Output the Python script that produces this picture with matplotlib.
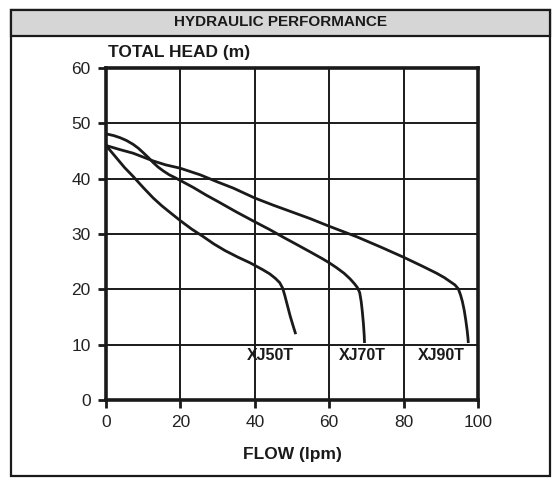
import matplotlib.pyplot as plt
from matplotlib.patches import Rectangle

# Pump curves (flow in lpm, head in m)
xj50_flow = [0, 1.5, 3, 5, 7.3, 10, 12.7, 15, 17.2, 20, 23, 26.2, 29, 32, 35.5, 38.7,
             42, 44, 45.5, 46.7, 47.5, 48.1, 48.8, 49.5, 50.3, 51]
xj50_head = [46, 44.8, 43.6, 42.0, 40.4, 38.4, 36.5, 35.1, 33.9, 32.4, 30.9, 29.5, 28.2, 27.0, 25.8, 24.8,
             23.6, 22.8, 22.0, 21.2, 20.2, 18.8, 17.0, 15.2, 13.4, 11.9]

xj70_flow = [0, 2, 3.8, 5.5, 7.3, 8.7, 10, 11.4, 12.7, 14, 15.4, 17, 18.5, 19.9, 23.5, 27, 30, 35,
             40, 44, 47.7, 51, 54.8, 58, 60, 62, 64, 65.6, 66.8, 67.6, 68.2, 68.6, 68.9, 69.2, 69.4, 69.5]
xj70_head = [48.1, 47.8, 47.4, 46.9, 46.2, 45.5, 44.7, 43.8, 42.9, 42.1, 41.4, 40.7, 40.2, 39.7, 38.4, 37.0, 35.9, 34.0,
             32.2, 30.8, 29.4, 28.2, 26.8, 25.6, 24.8, 23.9, 22.9, 21.9, 21.0, 20.3, 19.4, 17.8, 16.0, 13.8, 11.8, 10.3]

xj90_flow = [0, 3.5, 7.3, 10, 12.7, 16, 19.9, 25.3, 30, 34.2, 40, 45, 49.5, 54.8, 60, 67.4, 74, 80,
             85, 88.9, 91, 92.5, 93.8, 94.7, 95.3, 95.8, 96.3, 96.7, 97.1, 97.3, 97.4]
xj90_head = [46, 45.3, 44.6, 43.9, 43.2, 42.5, 41.9, 40.7, 39.4, 38.3, 36.5, 35.2, 34.1, 32.8, 31.4, 29.5, 27.6, 25.8,
             24.2, 22.9, 22.1, 21.4, 20.8, 20.1, 19.0, 17.8, 16.2, 14.5, 12.5, 11.2, 10.3]

models = ["XJ50T", "XJ70T", "XJ90T"]
label_x = [44.1, 68.8, 90.0]
label_y = [8.0, 8.0, 8.0]

x_ticks = [0, 20, 40, 60, 80, 100]
y_ticks = [0, 10, 20, 30, 40, 50, 60]

ink = "#1a1a1a"

fig = plt.figure(figsize=(5.57, 4.80), dpi=100)
plt.rcParams["font.family"] = ["Liberation Sans", "DejaVu Sans"]

# outer frame and grey header band
W, H = 557, 480
fig.patches.append(Rectangle((11 / W, 1 - 476 / H), 539 / W, 466 / H,
                             transform=fig.transFigure, fill=False,
                             edgecolor=ink, linewidth=1.6))
fig.patches.append(Rectangle((11 / W, 1 - 36 / H), 539 / W, 26 / H,
                             transform=fig.transFigure, facecolor="#d6d6d6",
                             edgecolor=ink, linewidth=1.6))
fig.text(281 / W, 1 - 22.5 / H, "HYDRAULIC PERFORMANCE", ha="center", va="center",
         fontsize=11, fontweight="bold", color=ink)

ax = fig.add_axes((106 / W, 1 - 400 / H, 372 / W, 332 / H))
for fl, hd in [(xj50_flow, xj50_head), (xj70_flow, xj70_head), (xj90_flow, xj90_head)]:
    ax.plot(fl, hd, color=ink, linewidth=2.0, solid_joinstyle="round", solid_capstyle="butt", zorder=3)

for name, lx, ly in zip(models, label_x, label_y):
    ax.text(lx, ly, name, ha="center", va="center", fontsize=11.5, fontweight="bold", color=ink)

ax.set_xlim(0, 100)
ax.set_ylim(0, 60)
ax.set_xticks(x_ticks)
ax.set_yticks(y_ticks)
ax.grid(True, color=ink, linewidth=1.4)
ax.set_axisbelow(True)
for s in ax.spines.values():
    s.set_linewidth(2.6)
    s.set_color(ink)
ax.tick_params(direction="out", length=6, width=2, color=ink, labelsize=12.5,
               labelcolor="#222222", pad=5)

fig.text(108 / W, 1 - 52 / H, "TOTAL HEAD (m)", ha="left", va="center",
         fontsize=12.5, fontweight="bold", color=ink)
fig.text(292 / W, 1 - 454 / H, "FLOW (lpm)", ha="center", va="center",
         fontsize=12.5, fontweight="bold", color=ink)

fig.savefig("out.png", dpi=100)
